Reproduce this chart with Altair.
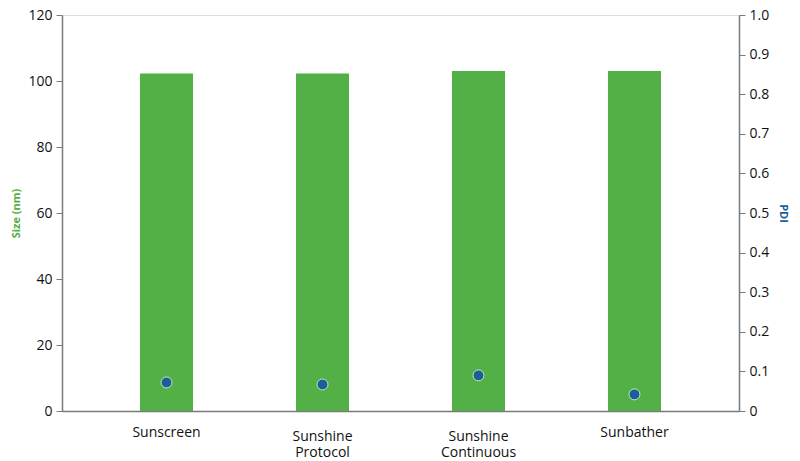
import altair as alt
import pandas as pd

# data
products = ["Sunscreen", "Sunshine Protocol", "Sunshine Continuous", "Sunbather"]
size_nm = [102.3, 102.3, 103.0, 103.0]
pdi = [0.072, 0.067, 0.090, 0.042]

df = pd.DataFrame({"product": products, "size": size_nm, "pdi": pdi})

FONT = "Open Sans"
GREEN = "#52b046"
BLUE = "#1a5f96"
AXIS_GREY = "#7a7a7a"

x_enc = alt.X(
    "product:N",
    sort=products,
    title=None,
    scale=alt.Scale(paddingInner=0.66, paddingOuter=0.5),
    axis=alt.Axis(
        labelAngle=0,
        labelExpr="split(datum.label, ' ')",
        ticks=False,
        labelPadding={
            "condition": {"test": "indexof(datum.value, ' ') < 0", "value": 14},
            "value": 18,
        },
        labelLineHeight=16,
        labelFontSize=14,
        labelColor="#111",
        labelFont=FONT,
        domainColor=AXIS_GREY,
        domainWidth=1.5,
    ),
)

bars = alt.Chart(df).mark_bar(color=GREEN).encode(
    x=x_enc,
    y=alt.Y(
        "size:Q",
        scale=alt.Scale(domain=[0, 120]),
        axis=alt.Axis(
            title="Size (nm)",
            titleColor=GREEN,
            titleFont=FONT,
            titleFontSize=11,
            titleFontWeight="bold",
            titlePadding=6,
            values=[0, 20, 40, 60, 80, 100, 120],
            grid=False,
            labelFont=FONT,
            labelFontSize=14,
            labelColor="#111",
            domainColor=AXIS_GREY,
            domainWidth=1.5,
            tickColor=AXIS_GREY,
            tickSize=6,
            labelPadding=4,
        ),
    ),
)

dots = alt.Chart(df).mark_circle(
    color=BLUE, size=120, opacity=1, stroke="#cfe3d0", strokeWidth=1
).encode(
    x=alt.X("product:N", sort=products),
    y=alt.Y(
        "pdi:Q",
        scale=alt.Scale(domain=[0, 1.0]),
        axis=alt.Axis(
            orient="right",
            title="PDI",
            titleColor=BLUE,
            titleFont=FONT,
            titleFontSize=11,
            titleFontWeight="bold",
            titlePadding=9,
            values=[0, 0.1, 0.2, 0.3, 0.4, 0.5, 0.6, 0.7, 0.8, 0.9, 1.0],
            labelExpr="datum.value == 0 ? '0' : format(datum.value, '.1f')",
            grid=False,
            labelFont=FONT,
            labelFontSize=14,
            labelColor="#111",
            domainColor=AXIS_GREY,
            domainWidth=1.5,
            tickColor=AXIS_GREY,
            tickSize=6,
            labelPadding=4,
        ),
    ),
)

chart = (
    alt.layer(bars, dots)
    .resolve_scale(y="independent")
    .properties(
        width=677,
        height=396,
        autosize=alt.AutoSizeParams(type="none"),
        padding={"left": 54, "top": 7, "right": 53, "bottom": 48},
    )
    .configure_view(stroke=AXIS_GREY, strokeWidth=1.5)
    .configure(background="white")
)

chart.save("out.html", embed_options={"renderer": "svg", "actions": False})
